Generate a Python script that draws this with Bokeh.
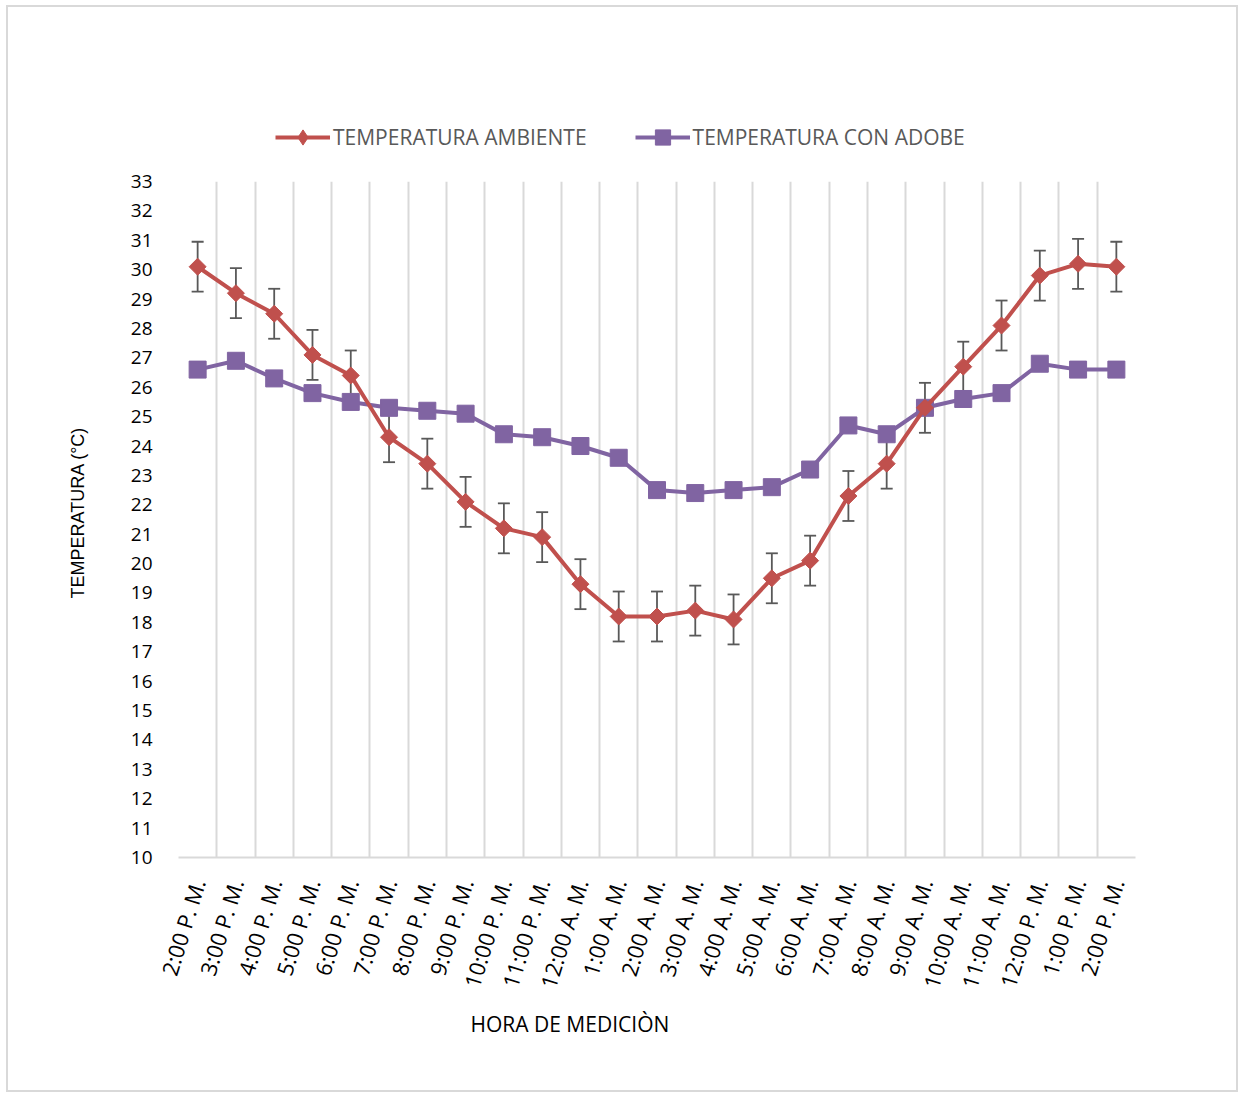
import numpy as np
from bokeh.plotting import figure
from bokeh.layouts import column
from bokeh.models import (ColumnDataSource, FixedTicker, Whisker, TeeHead, Legend,
                          LegendItem, Title)
from bokeh.embed import file_html
from bokeh.resources import INLINE

# ---------------- data ----------------
hours = ["2:00 P. M.", "3:00 P. M.", "4:00 P. M.", "5:00 P. M.", "6:00 P. M.",
         "7:00 P. M.", "8:00 P. M.", "9:00 P. M.", "10:00 P. M.", "11:00 P. M.",
         "12:00 A. M.", "1:00 A. M.", "2:00 A. M.", "3:00 A. M.", "4:00 A. M.",
         "5:00 A. M.", "6:00 A. M.", "7:00 A. M.", "8:00 A. M.", "9:00 A. M.",
         "10:00 A. M.", "11:00 A. M.", "12:00 P. M.", "1:00 P. M.", "2:00 P. M."]
temp_ambiente = [30.1, 29.2, 28.5, 27.1, 26.4, 24.3, 23.4, 22.1, 21.2, 20.9,
                 19.3, 18.2, 18.2, 18.4, 18.1, 19.5, 20.1, 22.3, 23.4, 25.3,
                 26.7, 28.1, 29.8, 30.2, 30.1]
temp_adobe = [26.6, 26.9, 26.3, 25.8, 25.5, 25.3, 25.2, 25.1, 24.4, 24.3,
              24.0, 23.6, 22.5, 22.4, 22.5, 22.6, 23.2, 24.7, 24.4, 25.3,
              25.6, 25.8, 26.8, 26.6, 26.6]
error_ambiente = 0.85
y_ticks = list(range(10, 34))
series_names = ["TEMPERATURA AMBIENTE", "TEMPERATURA CON ADOBE"]

n = len(hours)
xpos = [i + 0.5 for i in range(n)]

RED = "#C0504D"
PURPLE = "#8064A2"
GRID = "#D9D9D9"
FONT = "Open Sans"
W = 1228
H_LEG = 155

src = ColumnDataSource(dict(
    x=xpos,
    amb=temp_ambiente,
    ado=temp_adobe,
    upper=[v + error_ambiente for v in temp_ambiente],
    lower=[v - error_ambiente for v in temp_ambiente],
))

# ---------------- legend strip (its glyphs sit outside its visible range) ----------------
pl = figure(width=W, height=H_LEG, x_axis_location=None, y_axis_location=None,
            min_border_top=0, min_border_bottom=0,
            min_border_left=170, min_border_right=101,
            output_backend="svg", toolbar_location=None,
            x_range=(-20, -19), y_range=(-20, -19))
pl.outline_line_color = None
pl.xgrid.visible = False
pl.ygrid.visible = False
ll1 = pl.line("x", "amb", source=src, line_color=RED, line_width=4)
lm1 = pl.scatter("x", "amb", source=src, marker="diamond", size=14,
                 fill_color=RED, line_color=RED)
ll2 = pl.line("x", "ado", source=src, line_color=PURPLE, line_width=4)
lm2 = pl.scatter("x", "ado", source=src, marker="square", size=14,
                 fill_color=PURPLE, line_color=PURPLE)
legend = Legend(items=[LegendItem(label=series_names[0], renderers=[ll1, lm1]),
                       LegendItem(label=series_names[1], renderers=[ll2, lm2])],
                orientation="horizontal", location=(97, 6),
                glyph_width=55, glyph_height=38, label_standoff=3, spacing=48,
                padding=0, margin=0, border_line_color=None,
                background_fill_alpha=0,
                label_text_font=FONT, label_text_font_size="21px",
                label_text_color="#595959")
pl.add_layout(legend, "center")

# ---------------- main chart ----------------
p = figure(frame_width=957, frame_height=676,
           min_border_left=170, min_border_right=101,
           min_border_top=19, min_border_bottom=233,
           x_range=(0, n), y_range=(10, 33),
           output_backend="svg", toolbar_location=None)
p.outline_line_color = None
p.background_fill_color = "white"
p.border_fill_color = "white"

p.xaxis.ticker = FixedTicker(ticks=xpos)
p.xaxis.major_label_overrides = {x: h for x, h in zip(xpos, hours)}
p.xaxis.major_label_orientation = 1.27
p.xaxis.major_label_text_font = FONT
p.xaxis.major_label_text_font_size = "22px"
p.xaxis.major_label_text_color = "#000000"
p.xaxis.major_label_standoff = 16
p.xaxis.major_tick_line_color = None
p.xaxis.minor_tick_line_color = None
p.xaxis.axis_line_color = GRID
p.xaxis.axis_line_width = 2

p.yaxis.ticker = FixedTicker(ticks=y_ticks)
p.yaxis.major_label_text_font = FONT
p.yaxis.major_label_text_font_size = "19px"
p.yaxis.major_label_text_color = "#000000"
p.yaxis.major_label_standoff = 20
p.yaxis.major_tick_line_color = None
p.yaxis.minor_tick_line_color = None
p.yaxis.axis_line_color = None

p.xgrid.ticker = FixedTicker(ticks=list(range(0, n + 1)))
p.xgrid.grid_line_color = GRID
p.xgrid.grid_line_width = 2
p.ygrid.grid_line_color = None

p.line("x", "ado", source=src, line_color=PURPLE, line_width=4)
p.scatter("x", "ado", source=src, marker="square", size=17,
          fill_color=PURPLE, line_color=PURPLE)

p.add_layout(Whisker(source=src, base="x", upper="upper", lower="lower",
                     line_color="#595959", line_width=1.8,
                     upper_head=TeeHead(size=12, line_color="#595959", line_width=1.8),
                     lower_head=TeeHead(size=12, line_color="#595959", line_width=1.8)))

p.line("x", "amb", source=src, line_color=RED, line_width=4)
p.scatter("x", "amb", source=src, marker="square", angle=np.pi / 4, size=12,
          fill_color=RED, line_color=RED)

p.add_layout(Title(text="HORA DE MEDICIÒN", align="left", offset=292, standoff=16,
                   text_font=FONT, text_font_size="21px", text_font_style="normal",
                   text_color="#000000"), "below")
p.add_layout(Title(text="TEMPERATURA (°C)", align="left", offset=259, standoff=79,
                   text_font="Liberation Sans", text_font_size="18px",
                   text_font_style="normal", text_color="#000000"), "left")

layout = column(pl, p, spacing=0)
layout.styles = {"border": "2px solid #D9D9D9", "margin-left": "6px", "margin-top": "5px"}

open("out.html", "w").write(file_html(layout, INLINE))
